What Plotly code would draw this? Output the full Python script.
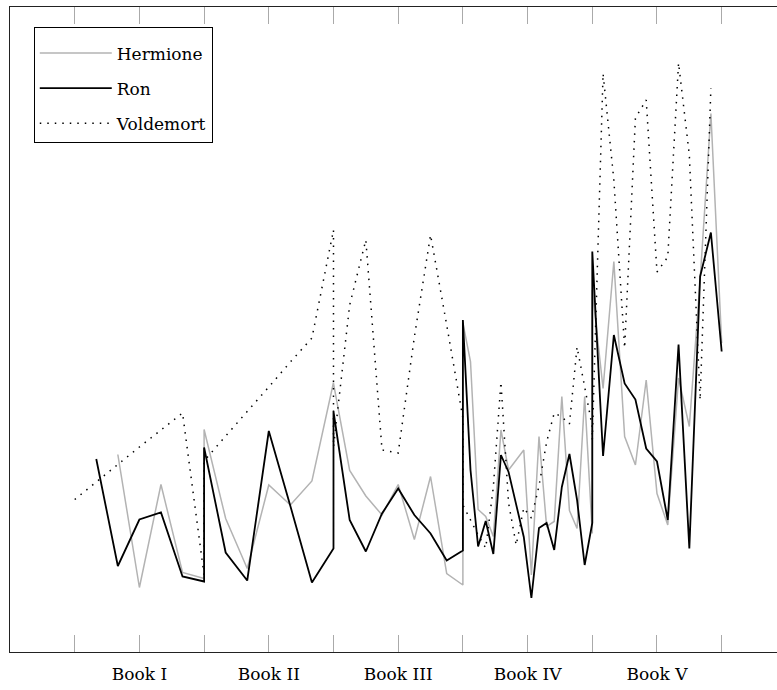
import plotly.graph_objects as go

# ---------------- data (one list per book, one value per chapter block) ----------------
book_labels = ["Book I", "Book II", "Book III", "Book IV", "Book V"]

hermione_I = [None, None, 39.5, 12.9, 33.5, 15.9, 14.7]
hermione_II = [44.5, 26.7, 16.7, 33.4, 29.4, 34.2, 53.9]
hermione_III = [53.7, 36.3, 31.2, 27.4, 33.5, 22.5, 35.1, 15.7, 13.4]
hermione_IV = [65.8, 58.1, 28.5, 27.1, 23.1, 44.4, 36.4, 38.4, 40.4, 15.4,
               43.1, 25.1, 26.1, 51.1, 28.3, 24.7, 51.1, 23.7]
hermione_V = [72.4, 52.7, 78.1, 43.1, 37.4, 54.4, 31.7, 25.4, 54.8, 45.1,
              74.4, 107.7, 61.8]

ron_I = [None, 38.6, 17.2, 26.5, 27.9, 15.1, 14.1]
ron_II = [40.9, 19.9, 14.3, 44.2, 29.2, 13.9, 20.7]
ron_III = [48.1, 26.4, 20.1, 27.7, 32.7, 27.4, 23.7, 18.3, 20.3]
ron_IV = [66.4, 36.4, 21.1, 26.2, 19.6, 39.4, 36.0, 29.6, 23.0, 10.8,
          24.8, 25.8, 20.4, 33.0, 39.6, 30.4, 17.4, 25.8]
ron_V = [80.1, 39.2, 63.4, 53.7, 50.5, 40.7, 38.1, 26.4, 61.5, 20.7,
         75.1, 83.9, 60.1]

voldemort_I = [30.5, 34.0, 37.6, 41.0, 44.4, 47.8, 15.4]
voldemort_II = [38.2, 43.2, 48.0, 53.0, 58.0, 62.8, 84.4]
voldemort_III = [41.0, 69.4, 82.4, 40.4, 39.8, 63.0, 83.4, 65.4, 46.8]
voldemort_IV = [29.4, 26.4, 23.4, 20.8, 33.0, 54.0, 29.8, 21.4, 28.8, 26.8,
                33.2, 42.0, 47.8, 47.0, 45.6, 61.0, 52.8, 45.0]
voldemort_V = [42.4, 115.7, 94.4, 60.8, 106.8, 110.4, 76.0, 79.0, 117.8, 99.4,
               50.4, 112.8, None]


def spread(books):
    """Place each book's blocks evenly over its own 2-unit span of the x axis."""
    xs, ys = [], []
    for b, vals in enumerate(books):
        n = len(vals)
        for i, v in enumerate(vals):
            xs.append(2 * b + 2 * i / (n - 1))
            ys.append(v)
    return xs, ys


hx, hy = spread([hermione_I, hermione_II, hermione_III, hermione_IV, hermione_V])
rx, ry = spread([ron_I, ron_II, ron_III, ron_IV, ron_V])
vx, vy = spread([voldemort_I, voldemort_II, voldemort_III, voldemort_IV, voldemort_V])

FONT = "DejaVu Serif"

fig = go.Figure()
fig.add_trace(go.Scatter(x=hx, y=hy, mode="lines", name="Hermione",
                         legendgroup="h",
                         line=dict(color="#b3b3b3", width=1.5)))
fig.add_trace(go.Scatter(x=rx, y=ry, mode="lines", name="Ron",
                         legendgroup="r",
                         line=dict(color="#000000", width=1.8)))
fig.add_trace(go.Scatter(x=vx, y=vy, mode="lines", name="Voldemort",
                         legendgroup="v",
                         line=dict(color="#000000", width=1.5, dash="1.5px,6px")))

tickvals = list(range(11))
ticktext = ["" if t % 2 == 0 else book_labels[t // 2] for t in tickvals]

fig.update_layout(
    width=777, height=690, autosize=False,
    margin=dict(l=10, r=0, t=7, b=38),
    paper_bgcolor="white", plot_bgcolor="white",
    showlegend=True,
    legend=dict(x=0.031, y=0.9695, xanchor="left", yanchor="top",
                bordercolor="#000000", borderwidth=1, bgcolor="white",
                font=dict(family=FONT, size=17, color="#000000"),
                title=dict(text=" ", font=dict(family=FONT, size=6)),
                itemwidth=72, tracegroupgap=10, traceorder="grouped"),
    xaxis=dict(range=[-1, 10.855], showgrid=False, zeroline=False,
               showline=True, linecolor="#222222", linewidth=1.2, mirror="ticks",
               ticks="inside", ticklen=17, tickwidth=1, tickcolor="#aaaaaa",
               tickvals=tickvals, ticktext=ticktext, ticklabelstandoff=6,
               tickfont=dict(family=FONT, size=17, color="#000000")),
    yaxis=dict(range=[0, 129], showgrid=False, zeroline=False,
               showline=True, linecolor="#222222", linewidth=1.2, mirror=False,
               ticks="", showticklabels=False),
)

fig.write_html(
    "out.html",
    config={"displayModeBar": False},
    post_script="document.body.style.margin='0px';"
                "document.body.style.overflow='hidden';",
)
